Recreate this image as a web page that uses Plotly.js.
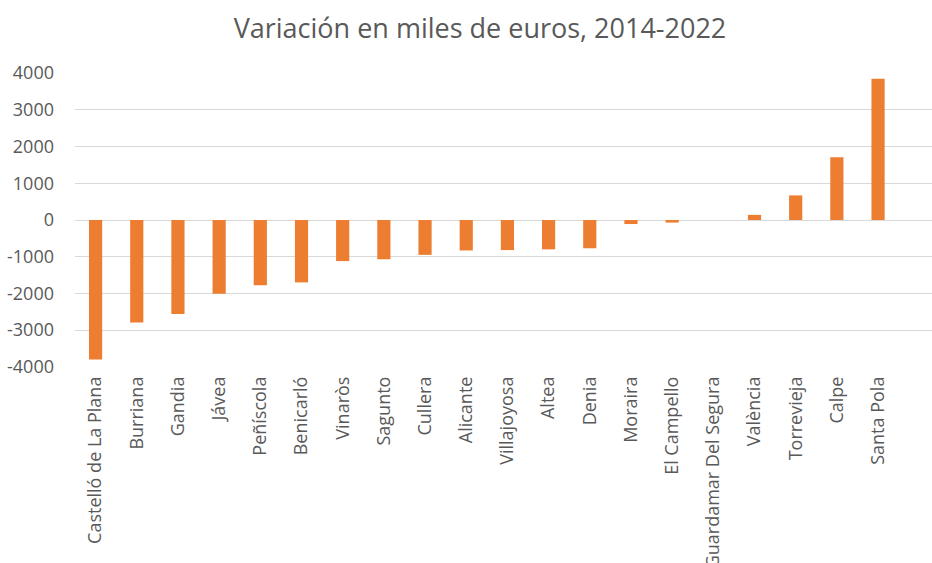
<!DOCTYPE html>
<html>
<head>
<meta charset="utf-8">
<script src="https://cdn.plot.ly/plotly-3.0.1.min.js"></script>
<style>html,body{margin:0;padding:0;background:#fff;}#chart{width:932px;height:563px;}</style>
</head>
<body>
<div id="chart"></div>
<script>
const categories = ["Castelló de La Plana","Burriana","Gandia","Jávea","Peñíscola","Benicarló","Vinaròs","Sagunto","Cullera","Alicante","Villajoyosa","Altea","Denia","Moraira","El Campello","Guardamar Del Segura","València","Torrevieja","Calpe","Santa Pola"];
const values = [-3800,-2790,-2560,-2010,-1780,-1700,-1120,-1070,-950,-830,-820,-800,-770,-110,-70,0,140,670,1710,3850];
const yTicks = [-4000,-3000,-2000,-1000,0,1000,2000,3000,4000];
const titleText = "Variación en miles de euros, 2014-2022";

const trace = {
  type: "bar",
  x: categories.map((c, i) => i),
  y: values,
  marker: {color: "#ED7D31", line: {width: 0}},
  hoverinfo: "x+y"
};
const layout = {
  width: 932, height: 563,
  margin: {l: 75, r: 0, t: 73, b: 196, pad: 0},
  paper_bgcolor: "#ffffff", plot_bgcolor: "#ffffff",
  font: {family: "Open Sans, sans-serif", color: "#595959", size: 18},
  title: {text: titleText, x: 0.515, xanchor: "center", y: 0.95, yanchor: "middle",
          font: {family: "Open Sans, sans-serif", size: 27, color: "#595959"}},
  bargap: 0.68,
  showlegend: false,
  xaxis: {
    range: [-0.5, 20.31],
    tickmode: "array",
    tickvals: categories.map((c, i) => i),
    ticktext: categories,
    tickangle: -90,
    showgrid: false, zeroline: false, showline: false, ticks: "",
    ticklabelstandoff: 5,
    tickfont: {size: 18, color: "#595959"},
    fixedrange: true
  },
  yaxis: {
    range: [-4005, 4005],
    tickmode: "array",
    tickvals: yTicks,
    ticktext: yTicks.map(String),
    showgrid: true, gridcolor: "#d9d9d9", gridwidth: 1,
    zeroline: true, zerolinecolor: "#d9d9d9", zerolinewidth: 1,
    showline: false, ticks: "", ticklabelstandoff: 20,
    tickfont: {size: 18, color: "#595959"},
    fixedrange: true
  }
};
Plotly.newPlot("chart", [trace], layout, {displayModeBar: false, staticPlot: true});
</script>
</body>
</html>
